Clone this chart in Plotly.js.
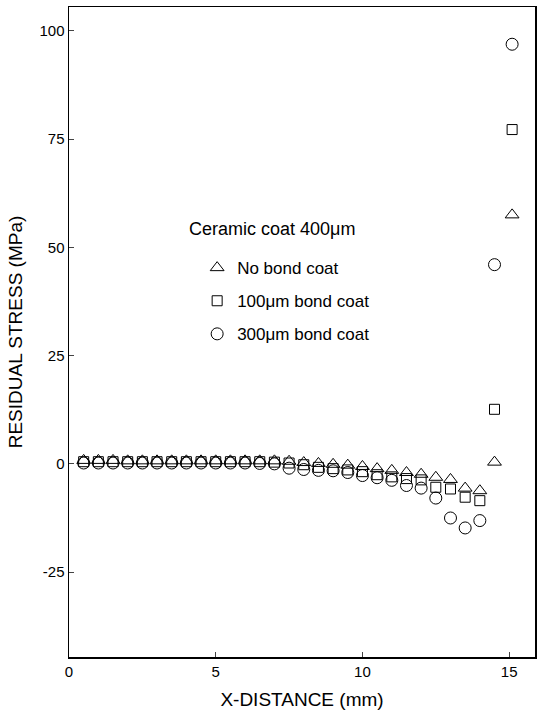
<!DOCTYPE html>
<html>
<head>
<meta charset="utf-8">
<script src="https://cdn.plot.ly/plotly-3.0.1.min.js"></script>
<style>html,body{margin:0;padding:0;background:#fff;}#chart{width:542px;height:716px;}</style>
</head>
<body>
<div id="chart"></div>
<script>
const xDistance = [0.5,1.0,1.5,2.0,2.5,3.0,3.5,4.0,4.5,5.0,5.5,6.0,6.5,7.0,7.5,8.0,8.5,9.0,9.5,10.0,10.5,11.0,11.5,12.0,12.5,13.0,13.5,14.0,14.5,15.1];
const noBondCoat = [0.8,0.8,0.8,0.7,0.7,0.7,0.7,0.7,0.7,0.7,0.7,0.7,0.7,0.7,0.6,0.3,0.1,-0.1,-0.3,-0.6,-1.1,-1.5,-2.0,-2.4,-3.1,-3.6,-5.6,-6.2,0.4,57.5];
const bond100 = [0.5,0.5,0.5,0.5,0.5,0.5,0.5,0.5,0.5,0.5,0.5,0.5,0.5,0.4,0.2,-0.2,-0.8,-1.1,-1.4,-1.8,-2.5,-3.0,-3.4,-3.7,-5.4,-5.8,-7.7,-8.5,12.6,77.2];
const bond300 = [0.2,0.2,0.2,0.2,0.2,0.2,0.2,0.2,0.2,0.2,0.2,0.2,0.1,0.0,-1.0,-1.3,-1.5,-1.6,-2.0,-2.7,-3.2,-3.8,-5.0,-5.6,-7.9,-12.5,-14.8,-13.1,46.0,96.9];
const seriesNames = ['No bond coat','100\u03bcm bond coat','300\u03bcm bond coat'];
const legendTitle = 'Ceramic coat 400\u03bcm';
const xTicks = [0,5,10,15];
const yTicks = [-25,0,25,50,75,100];

const FONT = 'Liberation Sans, Arial, sans-serif';
function mk(y, name, symbol, size, grp){
  return {x:xDistance, y:y, name:name, type:'scatter', mode:'markers', legendgroup:grp,
    marker:{symbol:symbol, size:size, color:'#000', line:{color:'#000', width:1}}};
}
const data = [
  mk(noBondCoat, seriesNames[0], 'triangle-up-open', 12, 'a'),
  mk(bond100, seriesNames[1], 'square-open', 10, 'b'),
  mk(bond300, seriesNames[2], 'circle-open', 12, 'c')
];
const layout = {
  width:542, height:716,
  margin:{l:69, r:7, t:7, b:59},
  paper_bgcolor:'#fff', plot_bgcolor:'#fff',
  font:{family:FONT, color:'#000', size:15},
  showlegend:true,
  legend:{x:0.275, y:0.626, xanchor:'left', yanchor:'top', bgcolor:'rgba(0,0,0,0)', borderwidth:0,
    font:{family:FONT, size:17, color:'#000'}, traceorder:'grouped', tracegroupgap:8},
  xaxis:{range:[0,15.88], tickvals:xTicks, ticktext:xTicks.map(String), ticks:'inside', ticklen:5, tickwidth:1,
    showline:true, linecolor:'#000', linewidth:1.5, mirror:true, showgrid:false, zeroline:false,
    tickfont:{size:15}, title:{text:'X-DISTANCE (mm)', font:{size:19}, standoff:14}},
  yaxis:{range:[-44.6,105.5], tickvals:yTicks, ticktext:yTicks.map(String), ticks:'inside', ticklen:5, tickwidth:1,
    showline:true, linecolor:'#000', linewidth:1.5, mirror:true, showgrid:false, zeroline:false,
    tickfont:{size:15}, title:{text:'RESIDUAL STRESS (MPa)', font:{size:19}, standoff:12}},
  annotations:[{text:legendTitle, xref:'paper', yref:'paper', x:(187-69)/466, y:(657-229)/650,
    xanchor:'left', yanchor:'middle', showarrow:false, font:{family:FONT, size:18, color:'#000'}}]
};
Plotly.newPlot('chart', data, layout, {displayModeBar:false, staticPlot:true});
</script>
</body>
</html>
